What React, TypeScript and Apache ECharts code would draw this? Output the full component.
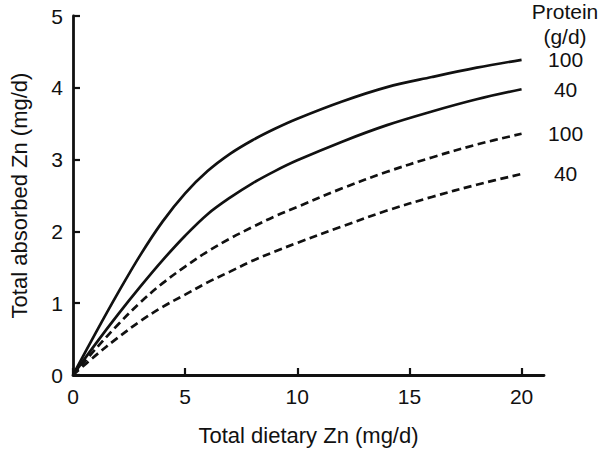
import React, { useEffect, useRef } from "react";
import * as echarts from "echarts";

const xValues = [0, 1, 2, 3, 4, 5, 6, 7, 8, 9, 10, 12, 14, 16, 18, 20];
const solid100 = [0, 0.58, 1.14, 1.67, 2.14, 2.53, 2.84, 3.08, 3.27, 3.43, 3.57, 3.81, 4.01, 4.15, 4.28, 4.39];
const solid40 = [0, 0.43, 0.84, 1.23, 1.6, 1.94, 2.24, 2.47, 2.67, 2.84, 2.99, 3.25, 3.48, 3.67, 3.84, 3.98];
const dashed100 = [0, 0.36, 0.7, 1.01, 1.28, 1.51, 1.72, 1.9, 2.06, 2.21, 2.34, 2.6, 2.83, 3.03, 3.21, 3.36];
const dashed40 = [0, 0.27, 0.52, 0.75, 0.95, 1.12, 1.29, 1.44, 1.59, 1.72, 1.84, 2.07, 2.29, 2.48, 2.65, 2.8];
const xTicks = [0, 5, 10, 15, 20];
const yTicks = [0, 1, 2, 3, 4, 5];
const seriesLabels = ["100", "40", "100", "40"];
const legendTitle = "Protein\n(g/d)";

const FONT = "Liberation Sans, Arial, Helvetica, sans-serif";
const INK = "#111";

export default function App() {
  const ref = useRef<HTMLDivElement>(null);
  useEffect(() => {
    if (!ref.current) return;
    const chart = echarts.init(ref.current, undefined, { renderer: "svg" });
    const mk = (vals: number[], dashed: boolean, label: string) => ({
      type: "line",
      data: xValues.map((x, i) => [x, vals[i]]),
      smooth: 0.35,
      showSymbol: false,
      symbol: "none",
      lineStyle: { color: INK, width: 2.7, type: dashed ? [8, 4.5] : "solid" },
      endLabel: {
        show: true,
        formatter: label,
        distance: 44,
        align: "center",
        color: INK,
        fontSize: 21,
        fontFamily: FONT,
      },
      z: 3,
    });
    chart.setOption({
      animation: false,
      backgroundColor: "#fff",
      grid: { left: 60, right: 56, top: 16, bottom: 71, containLabel: false },
      xAxis: {
        type: "value",
        min: 0,
        max: 21,
        interval: 5,
        name: "Total dietary Zn (mg/d)",
        nameLocation: "middle",
        nameGap: 49,
        nameTextStyle: { color: INK, fontSize: 22, fontFamily: FONT },
        axisLine: { lineStyle: { color: INK, width: 2.8 } },
        axisTick: { inside: true, length: 7, customValues: xTicks, lineStyle: { color: INK, width: 2.2 } },
        axisLabel: { customValues: xTicks, color: INK, fontSize: 21, fontFamily: FONT, margin: 11 },
        splitLine: { show: false },
      },
      yAxis: {
        type: "value",
        min: 0,
        max: 5,
        interval: 1,
        name: "Total absorbed Zn (mg/d)",
        nameLocation: "middle",
        nameGap: 43,
        nameTextStyle: { color: INK, fontSize: 22, fontFamily: FONT },
        axisLine: { show: true, lineStyle: { color: INK, width: 2.8 } },
        axisTick: { show: true, inside: true, length: 7, customValues: yTicks, lineStyle: { color: INK, width: 2.2 } },
        axisLabel: { customValues: yTicks, color: INK, fontSize: 21, fontFamily: FONT, margin: 10 },
        splitLine: { show: false },
      },
      graphic: [
        {
          type: "text",
          x: 565,
          y: -1,
          style: {
            text: legendTitle,
            textAlign: "center",
            fill: INK,
            fontSize: 21,
            fontFamily: FONT,
            lineHeight: 25,
          },
        },
      ],
      series: [
        mk(solid100, false, seriesLabels[0]),
        mk(solid40, false, seriesLabels[1]),
        mk(dashed100, true, seriesLabels[2]),
        mk(dashed40, true, seriesLabels[3]),
      ],
    });
    return () => chart.dispose();
  }, []);
  return <div ref={ref} style={{ width: 600, height: 451, position: "absolute", left: 0, top: 0 }} />;
}
